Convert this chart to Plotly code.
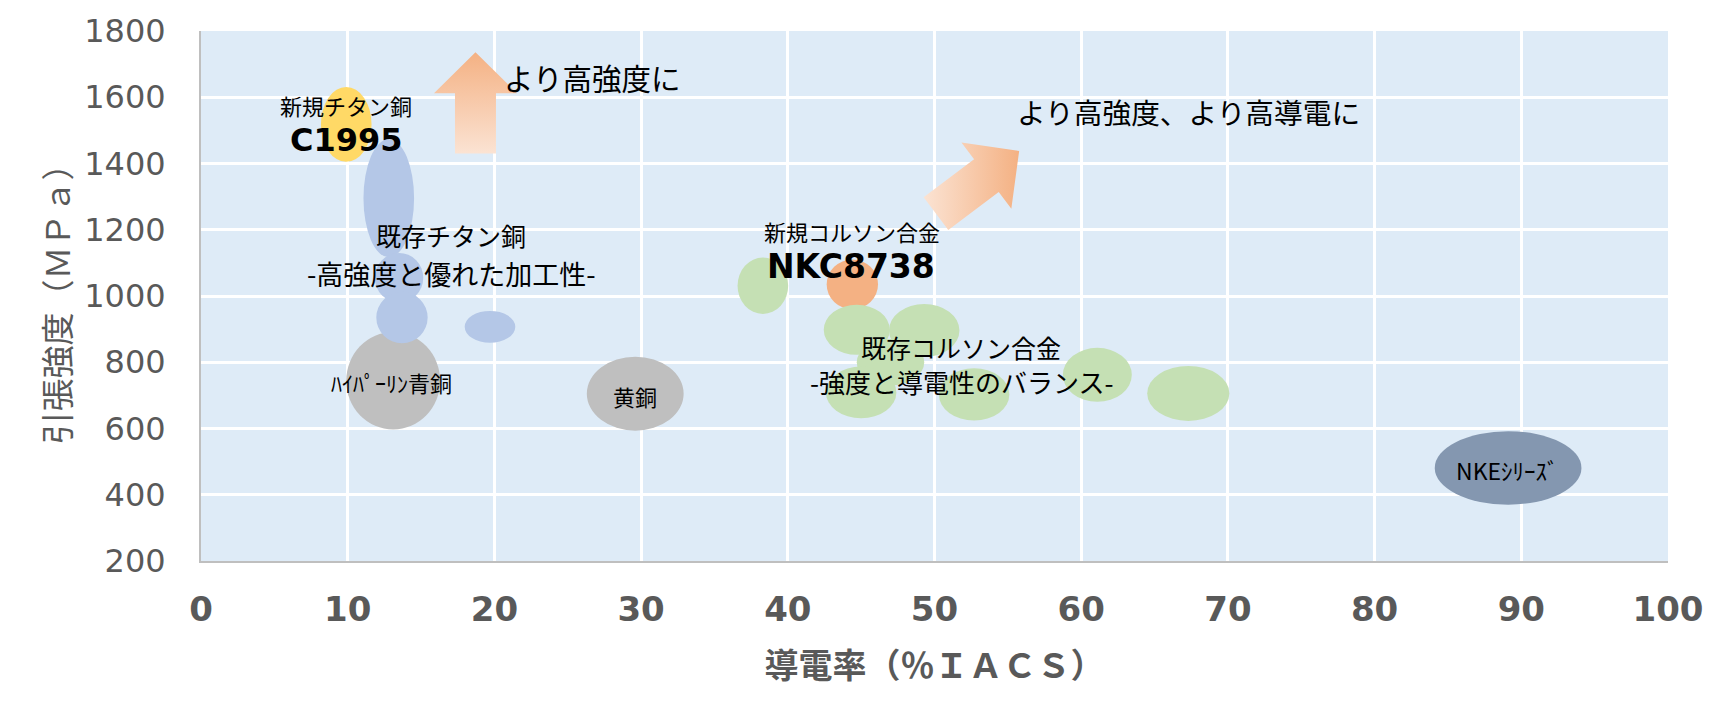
import math
import plotly.graph_objects as go

# ---------------- data ----------------
x_ticks = list(range(0, 101, 10))
y_ticks = list(range(200, 1801, 200))

# each bubble: centre conductivity (%IACS), centre strength (MPa),
# spread along conductivity (%IACS), spread along strength (MPa)
hyper_x = [13.1]
hyper_y = [744]
hyper_w = [6.4]
hyper_h = [294]

brass_x = [29.6]
brass_y = [705]
brass_w = [6.6]
brass_h = [223]

ti_exist_x = [12.8, 13.5, 13.7, 19.7]
ti_exist_y = [1295, 1055, 935, 907]
ti_exist_w = [3.45, 3.3, 3.5, 3.45]
ti_exist_h = [356, 150, 155, 96]

c1995_x = [9.9]
c1995_y = [1518]
c1995_w = [3.45]
c1995_h = [226]

nkc8738_x = [44.4]
nkc8738_y = [1035]
nkc8738_w = [3.5]
nkc8738_h = [150]

corson_x = [38.3, 44.7, 49.3, 47.0, 45.0, 52.7, 61.1, 67.3]
corson_y = [1031, 898, 896, 800, 709, 703, 762, 706]
corson_w = [3.45, 4.5, 4.8, 4.6, 4.8, 4.8, 4.7, 5.6]
corson_h = [170, 151, 160, 140, 156, 158, 163, 166]

nke_x = [89.1]
nke_y = [481]
nke_w = [10.0]
nke_h = [222]

# direction arrows (tail -> tip, in data units)
arrow_up_tail = (18.71, 1430)
arrow_up_tip = (18.71, 1736)
arrow_diag_tail = (50.1, 1249)
arrow_diag_tip = (55.77, 1438)

# ---------------- layout constants ----------------
# the page body adds an 8 px offset, so the figure is 8 px smaller
W, H = 1717, 706
ML, MR, MT, MB = 193, 57, 23, 153
X_RANGE = (0, 100)
Y_RANGE = (200, 1800)
SX = (W - ML - MR) / (X_RANGE[1] - X_RANGE[0])
SY = (H - MT - MB) / (Y_RANGE[1] - Y_RANGE[0])

JP = "Noto Sans CJK JP"
LAT = "DejaVu Sans, Noto Sans CJK JP"
GREY_TXT = "#595959"

fig = go.Figure()

groups = [
    (hyper_x, hyper_y, hyper_w, hyper_h, "#bfbfbf"),
    (brass_x, brass_y, brass_w, brass_h, "#bfbfbf"),
    (ti_exist_x, ti_exist_y, ti_exist_w, ti_exist_h, "#b4c7e7"),
    (c1995_x, c1995_y, c1995_w, c1995_h, "#ffd966"),
    (nkc8738_x, nkc8738_y, nkc8738_w, nkc8738_h, "#f4b183"),
    (corson_x, corson_y, corson_w, corson_h, "#c5e0b4"),
    (nke_x, nke_y, nke_w, nke_h, "#8497b0"),
]
for gx, gy, gw, gh, col in groups:
    for cx, cy, w, h in zip(gx, gy, gw, gh):
        fig.add_shape(type="circle", xref="x", yref="y",
                      x0=cx - w / 2, x1=cx + w / 2, y0=cy - h / 2, y1=cy + h / 2,
                      fillcolor=col, line=dict(width=0), layer="above")


def block_arrow(tail, tip, shaft_w=41, head_w=83, head_len=41):
    tx, ty = tail[0] * SX, tail[1] * SY
    hx, hy = tip[0] * SX, tip[1] * SY
    dx, dy = hx - tx, hy - ty
    L = math.hypot(dx, dy)
    ux, uy = dx / L, dy / L
    nx, ny = -uy, ux
    bx, by = hx - ux * head_len, hy - uy * head_len
    pts = [
        (tx + nx * shaft_w / 2, ty + ny * shaft_w / 2),
        (bx + nx * shaft_w / 2, by + ny * shaft_w / 2),
        (bx + nx * head_w / 2, by + ny * head_w / 2),
        (hx, hy),
        (bx - nx * head_w / 2, by - ny * head_w / 2),
        (bx - nx * shaft_w / 2, by - ny * shaft_w / 2),
        (tx - nx * shaft_w / 2, ty - ny * shaft_w / 2),
    ]
    pts.append(pts[0])
    return [p[0] / SX for p in pts], [p[1] / SY for p in pts]


for tail, tip, gtype in [(arrow_up_tail, arrow_up_tip, "vertical"),
                         (arrow_diag_tail, arrow_diag_tip, "horizontal")]:
    ax_, ay_ = block_arrow(tail, tip)
    fig.add_trace(go.Scatter(
        x=ax_, y=ay_, mode="lines", fill="toself",
        line=dict(width=0, color="rgba(0,0,0,0)"),
        fillgradient=dict(type=gtype, colorscale=[[0, "#fbe3d3"], [1, "#f4b183"]]),
        hoverinfo="skip", showlegend=False))

labels = [
    ("新規チタン銅", 9.9, 1576, 22, JP, False, "center"),
    ("C1995", 9.9, 1472, 32, LAT, True, "center"),
    ("より高強度に", 20.5, 1662, 29.5, JP, False, "left"),
    ("より高強度、より高導電に", 55.5, 1558, 28.7, JP, False, "left"),
    ("既存チタン銅", 17.03, 1184, 25, JP, False, "center"),
    ("-高強度と優れた加工性-", 17.1, 1069, 27, JP, False, "center"),
    ("新規コルソン合金", 44.4, 1195, 22, JP, False, "center"),
    ("NKC8738", 44.3, 1088, 33, LAT, True, "center"),
    ("既存コルソン合金", 51.8, 847, 25, JP, False, "center"),
    ("-強度と導電性のバランス-", 51.85, 741, 26, JP, False, "center"),
    ("ﾊｲﾊﾟｰﾘﾝ青銅", 13.0, 741, 22, JP, False, "center"),
    ("黄銅", 29.6, 698, 22, JP, False, "center"),
    ("NKEｼﾘｰｽﾞ", 89.05, 476, 23, JP, False, "center"),
]
for txt, lx, ly, sz, fam, bold, anc in labels:
    fig.add_annotation(x=lx, y=ly, xref="x", yref="y",
                       text=f"<b>{txt}</b>" if bold else txt,
                       showarrow=False, xanchor=anc, yanchor="middle",
                       font=dict(family=fam, size=sz, color="#000000"))

fig.update_layout(
    width=W, height=H,
    margin=dict(l=ML, r=MR, t=MT, b=MB, autoexpand=False),
    paper_bgcolor="#ffffff", plot_bgcolor="#deebf7",
    showlegend=False, hovermode=False,
    xaxis=dict(range=list(X_RANGE), tickvals=x_ticks, ticktext=[str(v) for v in x_ticks],
               showgrid=True, gridcolor="#ffffff", gridwidth=2.5,
               zeroline=False, showline=True, linecolor="#bfbfbf", linewidth=2,
               ticks="", ticklabelstandoff=17,
               tickfont=dict(family=LAT, size=34, color=GREY_TXT, weight="bold"),
               title=dict(text="<b>導電率（％ＩＡＣＳ）</b>", standoff=26,
                          font=dict(family=JP, size=34, color=GREY_TXT)),
               fixedrange=True),
    yaxis=dict(range=list(Y_RANGE), tickvals=y_ticks, ticktext=[str(v) for v in y_ticks],
               showgrid=True, gridcolor="#ffffff", gridwidth=2.5,
               zeroline=False, showline=True, linecolor="#bfbfbf", linewidth=2,
               ticks="", ticklabelstandoff=27,
               tickfont=dict(family=LAT, size=32, color=GREY_TXT),
               title=dict(text="引張強度（ＭＰａ）", standoff=4,
                          font=dict(family=JP, size=33, color=GREY_TXT)),
               fixedrange=True),
)

fig.write_html("out.html")
